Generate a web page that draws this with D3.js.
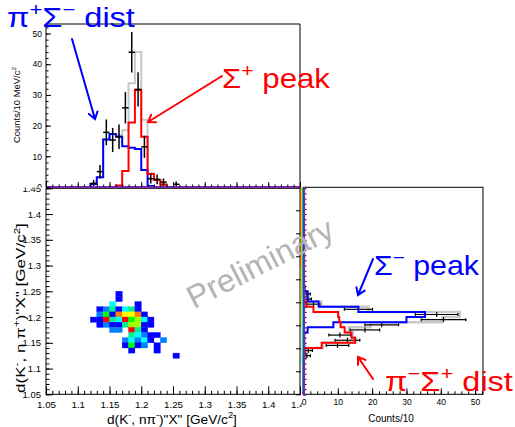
<!DOCTYPE html>
<html><head><meta charset="utf-8">
<script src="https://cdn.jsdelivr.net/npm/d3@7"></script>
<style>
body{margin:0;background:#fff}
svg{display:block}
text{font-family:"Liberation Sans",Arial,Helvetica,sans-serif}
</style>
</head><body>
<svg id="c" width="515" height="427"></svg>
<script>
// ================= DATA =================
// top projection: bins of 0.01 GeV/c^2 (lower edges)
const topBinLow = [1.12,1.13,1.14,1.15,1.16,1.17,1.18,1.19,1.20,1.21,1.22,1.23,1.24,1.25];
const topBlue   = [1.0, 3.2, 15.5,17.3,16.4,13.3,12.8,12.4,5.5, 0.3, 0,   0,   0, 0];
const topRed    = [0,   0,   0,   0,   0.5, 5.2, 21.0,31.6,16.4,4.2, 2.3, 0.8, 0, 0];
const topGray   = [1.0, 3.2, 15.5,17.3,16.9,18.5,33.8,44.0,21.9,4.5, 2.3, 0.8, 0, 0];
const topDataX  = [1.125,1.135,1.145,1.155,1.165,1.175,1.185,1.195,1.205,1.215,1.225,1.235,1.255];
const topDataY  = [1.2, 5.0, 17.8,15.3,16.4,25.8,43.9,31.8,13.1,2.7,2.5,1.6,0.9];
const topDataErr= [1.1, 2.2, 4.2, 3.9, 4.0, 5.1, 6.6, 5.6, 3.6, 1.6,1.6,1.2,0.9];
const topYTicks = [0,10,20,30,40,50];

// right projection (rows, lower edges)
const rightBinLow = [1.12,1.13,1.14,1.15,1.16,1.17,1.18,1.19,1.20,1.21,1.22,1.23,1.24,1.25];
const rightBlue   = [0.2, 0.2, 0.2, 0.2, 0.2, 1.2, 8.7, 30.0,35.4,16.0,4.4, 1.2, 1.2, 0.3];
const rightRed    = [0.2, 0.4, 5.3, 15.0,14.0,12.0,10.8,10.4,10.1,2.9, 0.8, 0.3, 0,   0];
const rightGray   = [0.5, 0.7, 5.6, 15.3,14.3,13.2,19.5,40.4,45.5,18.9,5.2, 1.5, 1.2, 0.3];
const rightDataY  = [1.125,1.135,1.145,1.155,1.165,1.175,1.185,1.195,1.205,1.215,1.225,1.235,1.245];
const rightDataX  = [1.0, 1.4, 9.9, 12.8,10.6,17.9,22.8,40.8,38.8,16.0,2.9, 1.2, 1.0];
const rightDataErr= [1.0, 1.2, 3.3, 3.6, 3.2, 4.3, 4.9, 6.5, 6.2, 4.1, 1.9, 1.1, 1.0];
const rightXTicks = [0,10,20,30,40,50];

// 2D histogram cells (lower-left corners, counts)
const cellX = [1.16,1.16, 1.15,1.19,
  1.13,1.14,1.15,1.16,1.17,1.18,1.19,
  1.13,1.14,1.15,1.16,1.17,1.18,1.19,1.20,
  1.12,1.13,1.14,1.15,1.16,1.17,1.18,1.19,1.20,1.21,
  1.13,1.14,1.15,1.16,1.17,1.18,1.19,1.20,1.21,
  1.15,1.16,1.18,1.19,1.20,
  1.18,1.19,1.20,1.21,1.22,
  1.17,1.18,1.19,1.20,1.21,1.23,
  1.17,1.18,1.19,1.20,1.22,
  1.18,1.22,
  1.25];
const cellY = [1.24,1.23, 1.22,1.22,
  1.21,1.21,1.21,1.21,1.21,1.21,1.21,
  1.20,1.20,1.20,1.20,1.20,1.20,1.20,1.20,
  1.19,1.19,1.19,1.19,1.19,1.19,1.19,1.19,1.19,1.19,
  1.18,1.18,1.18,1.18,1.18,1.18,1.18,1.18,1.18,
  1.17,1.17,1.17,1.17,1.17,
  1.16,1.16,1.16,1.16,1.16,
  1.15,1.15,1.15,1.15,1.15,1.15,
  1.14,1.14,1.14,1.14,1.14,
  1.13,1.13,
  1.12];
const cellCount = [1,1, 3,1,
  1,2,4,1,3,4,1,
  2,5,1,8,7,7,8,1,
  1,1,9,4,3,9,5,6,3,1,
  1,2,1,1,4,6,6,1,1,
  2,2,9,4,1,
  4,3,2,1,1,
  2,3,2,3,1,2,
  1,5,1,2,1,
  1,1,
  1];
const massTicks = [1.05,1.1,1.15,1.2,1.25,1.3,1.35,1.4,1.45];
const palette = ["#0000ff","#0080ff","#00ffff","#00f090","#00ff00","#a0ff00","#ffff00","#ff8000","#ff0000"];

// ================= SCALES =================
const svg = d3.select("#c");
const xM = d3.scaleLinear([1.05,1.45],[46,300]);
const yTop = d3.scaleLinear([0,53.1],[187,24]);
const yM = d3.scaleLinear([1.05,1.45],[394.3,188.3]);
const xR = d3.scaleLinear([0,52.3],[303.5,483]);
const col = d3.scaleLinear(d3.range(1,palette.length+1),palette);
const fmt = d => String(+d.toFixed(2));

const defs = svg.append("defs");
function clip(id,x,y,w,h){defs.append("clipPath").attr("id",id).append("rect").attr("x",x).attr("y",y).attr("width",w).attr("height",h);}
clip("belowTop",0,187.5,515,300);
clip("aboveBottom",0,0,515,187.5);
clip("leftOfRight",0,0,302,427);
clip("rightOfMain",302,0,300,427);

svg.append("rect").attr("width",515).attr("height",427).attr("fill","#fff");

function styleAxis(g,size){
  g.select(".domain").remove();
  g.selectAll("line").attr("stroke","#000").attr("stroke-width",1);
  g.selectAll("text").attr("fill","#000").style("font-size",size+"px").style("font-family",'"Liberation Sans",Arial,sans-serif');
}

// ================= 2D PANEL =================
const g2 = svg.append("g");
const cells = cellX.map((x,i)=>({x, y:cellY[i], c:cellCount[i]}));
g2.selectAll("rect.cell").data(cells).join("rect").attr("class","cell")
  .attr("x",d=>xM(d.x)).attr("y",d=>yM(d.y+0.01))
  .attr("width",d=>xM(d.x+0.01)-xM(d.x)).attr("height",d=>yM(d.y)-yM(d.y+0.01))
  .attr("fill",d=>col(d.c)).attr("stroke",d=>col(d.c)).attr("stroke-width",0.4);

const minorMass = d3.range(105,146).map(v=>v/100);
// x axis
let ax = g2.append("g").attr("transform","translate(0,394.3)")
  .call(d3.axisBottom(xM).tickValues(minorMass).tickSize(-3.5).tickFormat(""));
styleAxis(ax,10);
ax = g2.append("g").attr("clip-path","url(#leftOfRight)").append("g").attr("transform","translate(0,394.3)")
  .call(d3.axisBottom(xM).tickValues(massTicks).tickSize(-8).tickPadding(7).tickFormat(fmt));
styleAxis(ax,9.8);
// y axis
ax = g2.append("g").attr("transform","translate(46,0)")
  .call(d3.axisLeft(yM).tickValues(minorMass).tickSize(-3.5).tickFormat(""));
styleAxis(ax,10);
ax = g2.append("g").attr("clip-path","url(#belowTop)").append("g").attr("transform","translate(46,0)")
  .call(d3.axisLeft(yM).tickValues(massTicks).tickSize(-7).tickPadding(5).tickFormat(fmt));
styleAxis(ax,9.5);
g2.append("rect").attr("x",46).attr("y",188.3).attr("width",254).attr("height",206)
  .attr("fill","none").attr("stroke","#000").attr("stroke-width",1);

// axis titles
function rich(parent,x,y,parts,size,color,anchor,rotate,targetLen){
  const t = parent.append("text").attr("fill",color).style("font-size",size+"px");
  let up=false;
  parts.forEach(p=>{
    const ts=t.append("tspan").text(p.t);
    if(p.sup && !up){ts.attr("dy",-size*0.42).style("font-size",(size*0.68)+"px");up=true;}
    else if(p.sup){ts.style("font-size",(size*0.68)+"px");}
    else if(up){ts.attr("dy",size*0.42);up=false;}
  });
  const w = t.node().getComputedTextLength();
  const sx = targetLen? targetLen/w : 1;
  const x0 = anchor==="middle"? -w*sx/2 : 0;
  t.attr("x",0).attr("y",0);
  t.attr("transform",`translate(${x},${y}) rotate(${rotate||0}) translate(${x0},0) scale(${sx},1)`);
  return t;
}
rich(svg,172,423.5,[{t:"d(K"},{t:"-",sup:1},{t:", n\u03c0"},{t:"-",sup:1},{t:")\"X\" [GeV/c"},{t:"2",sup:1},{t:"]"}],12,"#000","middle",0,130);
rich(svg,25,308,[{t:"d(K"},{t:"-",sup:1},{t:", n \u03c0"},{t:"+",sup:1},{t:")\"X\" [GeV/c"},{t:"2",sup:1},{t:"]"}],13,"#000","middle",-90,170);

// ================= RIGHT PANEL =================
const gR = svg.append("g");
function stepV(lows,vals){
  const edges = d3.range(0,41).map(i=>1.05+i*0.01);
  const full = edges.slice(0,40).map(e=>{const k=lows.findIndex(l=>Math.abs(l-e)<1e-6);return k>=0?vals[k]:0;});
  let d=`M${xR(full[0])},${yM(1.05)}`;
  full.forEach((v,i)=>{d+=`H${xR(v)}V${yM(edges[i+1])}`;});
  return d;
}
gR.append("path").attr("d",stepV(rightBinLow,rightGray)).attr("fill","none").attr("stroke","#c8c8c8").attr("stroke-width",2.5);
const rdat = rightDataY.map((y,i)=>({y,x:rightDataX[i],e:rightDataErr[i]}));
const rp = gR.selectAll("g.rp").data(rdat).join("g").attr("stroke","#000").attr("stroke-width",1.2);
rp.append("line").attr("x1",d=>xR(Math.max(0,d.x-d.e))).attr("x2",d=>xR(d.x+d.e)).attr("y1",d=>yM(d.y)).attr("y2",d=>yM(d.y));
rp.append("line").attr("x1",d=>xR(d.x)).attr("x2",d=>xR(d.x)).attr("y1",d=>yM(d.y)-2.5).attr("y2",d=>yM(d.y)+2.5);
rp.append("line").attr("x1",d=>xR(d.x+d.e)).attr("x2",d=>xR(d.x+d.e)).attr("y1",d=>yM(d.y)-1.5).attr("y2",d=>yM(d.y)+1.5);
rp.filter(d=>d.x-d.e>0).append("line").attr("x1",d=>xR(d.x-d.e)).attr("x2",d=>xR(d.x-d.e)).attr("y1",d=>yM(d.y)-1.5).attr("y2",d=>yM(d.y)+1.5);
gR.append("path").attr("d",stepV(rightBinLow,rightBlue)).attr("fill","none").attr("stroke","#0000ff").attr("stroke-width",2);
gR.append("path").attr("d",stepV(rightBinLow,rightRed)).attr("fill","none").attr("stroke","#ff0000").attr("stroke-width",2);

// x axis right
ax = gR.append("g").attr("transform","translate(0,394.3)")
  .call(d3.axisBottom(xR).tickValues(d3.range(0,53,2)).tickSize(-3).tickFormat(""));
styleAxis(ax,9);
ax = gR.append("g").attr("clip-path","url(#rightOfMain)").append("g").attr("transform","translate(0,394.3)")
  .call(d3.axisBottom(xR).tickValues(rightXTicks).tickSize(-6).tickPadding(5).tickFormat(d3.format("d")));
styleAxis(ax,8.5);
// y axis right: minor ticks inside, major outside
ax = gR.append("g").attr("transform","translate(303.5,0)")
  .call(d3.axisLeft(yM).tickValues(minorMass).tickSize(-3).tickFormat(""));
styleAxis(ax,9);
ax = gR.append("g").attr("transform","translate(301,0)")
  .call(d3.axisLeft(d3.scaleLinear([0,9],[394.3,187.3])).tickValues(d3.range(0,10)).tickSize(5).tickFormat(""));
styleAxis(ax,9);
gR.append("rect").attr("x",303.5).attr("y",187.3).attr("width",179.5).attr("height",207)
  .attr("fill","none").attr("stroke","#000").attr("stroke-width",1);
// squeezed palette stripe at left edge
const stripe = [["#ff0000",300.6,187,268],["#ff9000",301.1,187,300],["#e0f000",301.7,187,325],["#00e000",302.2,187,365],["#00e0e0",302.8,187,392],["#0040ff",303.4,200,395],["#7a28b4",304.2,187,396]];
gR.selectAll("line.st").data(stripe).join("line").attr("class","st")
  .attr("x1",d=>d[1]).attr("x2",d=>d[1]).attr("y1",d=>d[2]).attr("y2",d=>d[3])
  .attr("stroke",d=>d[0]).attr("stroke-width",(d,i)=>i===6?1.8:0.8);
svg.append("text").attr("x",391).attr("y",422).attr("text-anchor","middle").style("font-size","10px").text("Counts/10");

// ================= TOP PANEL =================
const gT = svg.append("g");
function stepH(lows,vals){
  const edges = d3.range(0,41).map(i=>1.05+i*0.01);
  const full = edges.slice(0,40).map(e=>{const k=lows.findIndex(l=>Math.abs(l-e)<1e-6);return k>=0?vals[k]:0;});
  let d=`M${xM(1.05)},${yTop(full[0])}`;
  full.forEach((v,i)=>{d+=`V${yTop(v)}H${xM(edges[i+1])}`;});
  return d;
}
gT.append("path").attr("d",stepH(topBinLow,topGray)).attr("fill","none").attr("stroke","#c8c8c8").attr("stroke-width",2);
gT.append("path").attr("d",stepH(topBinLow,topBlue)).attr("fill","none").attr("stroke","#0000ff").attr("stroke-width",2);
gT.append("path").attr("d",stepH(topBinLow,topRed)).attr("fill","none").attr("stroke","#ff0000").attr("stroke-width",2);
const tdat = topDataX.map((x,i)=>({x,y:topDataY[i],e:topDataErr[i]}));
const tp = gT.selectAll("g.tp").data(tdat).join("g").attr("stroke","#000").attr("stroke-width",1.5);
tp.append("line").attr("x1",d=>xM(d.x)).attr("x2",d=>xM(d.x)).attr("y1",d=>yTop(Math.max(0,d.y-d.e))).attr("y2",d=>yTop(d.y+d.e));
tp.append("line").attr("x1",d=>xM(d.x-0.005)).attr("x2",d=>xM(d.x+0.005)).attr("y1",d=>yTop(d.y)).attr("y2",d=>yTop(d.y));
// zero-level (purple) histogram
gT.append("line").attr("x1",46).attr("x2",300).attr("y1",yTop(0)).attr("y2",yTop(0)).attr("stroke","#7a28b4").attr("stroke-width",2);
// axes
ax = gT.append("g").attr("transform","translate(0,187)")
  .call(d3.axisBottom(xM).tickValues(minorMass).tickSize(-2.5).tickFormat(""));
styleAxis(ax,9);
ax = gT.append("g").attr("transform","translate(0,187)")
  .call(d3.axisBottom(xM).tickValues(massTicks).tickSize(-5).tickFormat(""));
styleAxis(ax,9);
ax = gT.append("g").attr("transform","translate(46,0)")
  .call(d3.axisLeft(yTop).tickValues(d3.range(0,54,2)).tickSize(-2.5).tickFormat(""));
styleAxis(ax,9);
ax = gT.append("g").attr("clip-path","url(#aboveBottom)").append("g").attr("transform","translate(46,0)")
  .call(d3.axisLeft(yTop).tickValues(topYTicks).tickSize(-5).tickPadding(4).tickFormat(d3.format("d")));
styleAxis(ax,8.5);
gT.append("path").attr("d",`M46,187V24H300V187`).attr("fill","none").attr("stroke","#000").attr("stroke-width",1);
rich(svg,20,105,[{t:"Counts/10 MeV/c"},{t:"2",sup:1}],9,"#000","middle",-90,76);

// ================= WATERMARK =================
svg.append("text").attr("transform","translate(260,263) rotate(-27)").attr("text-anchor","middle")
  .attr("dy","0.35em").attr("fill","#b4b4b4").style("font-size","32px").text("Preliminary");

// ================= ANNOTATIONS =================
function arrow(x1,y1,x2,y2,color){
  const a=Math.atan2(y2-y1,x2-x1), L=8, s=0.6;
  svg.append("path").attr("d",`M${x1},${y1}L${x2},${y2}M${x2-L*Math.cos(a-s)},${y2-L*Math.sin(a-s)}L${x2},${y2}L${x2-L*Math.cos(a+s)},${y2-L*Math.sin(a+s)}`)
    .attr("fill","none").attr("stroke",color).attr("stroke-width",2).attr("stroke-linecap","round");
}
rich(svg,7,27,[{t:"\u03c0"},{t:"+",sup:1},{t:"\u03a3"},{t:"\u2212",sup:1},{t:" dist"}],27,"#0000ff","start",0,128);
rich(svg,222,88,[{t:"\u03a3"},{t:"+",sup:1},{t:" peak"}],27,"#ff0000","start",0,108);
rich(svg,374,275,[{t:"\u03a3"},{t:"\u2212",sup:1},{t:" peak"}],27,"#0000ff","start",0,105);
rich(svg,385,391,[{t:"\u03c0"},{t:"\u2212",sup:1},{t:"\u03a3"},{t:"+",sup:1},{t:" dist"}],27,"#ff0000","start",0,128);
arrow(72,39,95,119,"#0000ff");
arrow(222,76,148,122,"#ff0000");
arrow(373,259,358,295,"#0000ff");
arrow(373,379,358,357,"#ff0000");
</script>
</body></html>
